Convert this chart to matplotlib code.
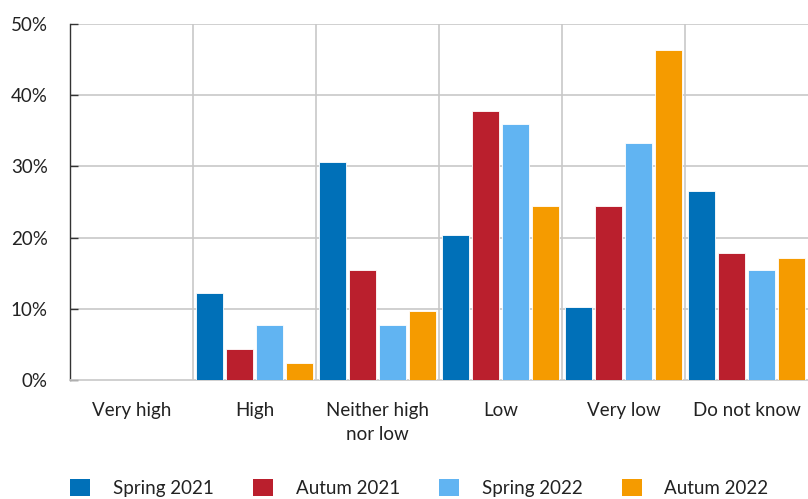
import matplotlib
matplotlib.use("Agg")
import matplotlib.pyplot as plt
import numpy as np
from matplotlib.patches import Patch

categories = ["Very high", "High", "Neither high\nnor low", "Low", "Very low", "Do not know"]
series_names = ["Spring 2021", "Autum 2021", "Spring 2022", "Autum 2022"]
spring_2021 = [0.0, 12.2, 30.6, 20.4, 10.2, 26.5]
autum_2021 = [0.0, 4.4, 15.5, 37.8, 24.4, 17.8]
spring_2022 = [0.0, 7.7, 7.7, 35.9, 33.3, 15.4]
autum_2022 = [0.0, 2.4, 9.7, 24.4, 46.3, 17.1]
colors = ["#0070B8", "#BA1F2D", "#61B4F2", "#F59B00"]
yticks = [0, 10, 20, 30, 40, 50]

plt.rcParams['font.family'] = ['Lato', 'DejaVu Sans']

fig = plt.figure(figsize=(8.08, 4.99), dpi=100)
ax = fig.add_axes([70/808, 1-380/499, 1-70/808, (380-24)/499])

x = np.arange(len(categories))
step = 0.244
w = 0.225
for i, (vals, c) in enumerate(zip([spring_2021, autum_2021, spring_2022, autum_2022], colors)):
    ax.bar(x + (i - 1.5) * step, vals, width=w, color=c, edgecolor='white', linewidth=0.6, zorder=3)

ax.set_xlim(-0.5, len(categories) - 0.5)
ax.set_ylim(0, 50)
ax.set_yticks(yticks)
ax.set_yticklabels([f"{t}%" for t in yticks])
ax.set_xticks(x)
ax.set_xticklabels(categories)

# grid
for yv in yticks[1:]:
    ax.axhline(yv, color='#C8C8C8', linewidth=1.2, zorder=1)
for b in np.arange(0.5, len(categories) - 0.5, 1.0):
    ax.axvline(b, color='#C8C8C8', linewidth=1.2, zorder=1)

for s in ['top', 'right']:
    ax.spines[s].set_visible(False)
ax.spines['bottom'].set_color('#C8C8C8')
ax.spines['bottom'].set_linewidth(1.2)
ax.spines['left'].set_color('#333333')
ax.spines['left'].set_linewidth(1.0)

ax.tick_params(axis='y', direction='in', length=6, width=1.0, color='#333333', pad=16, labelsize=13.5, labelcolor='#222222')
ax.tick_params(axis='x', length=0, pad=16, labelsize=13.5, labelcolor='#222222')
for lab in ax.get_xticklabels():
    lab.set_linespacing(1.45)

handles = [Patch(facecolor=c, edgecolor='none') for c in colors]
fig.legend(handles, series_names, loc='lower center', bbox_to_anchor=(0.519, -0.03), ncol=4,
           frameon=False, fontsize=13.5, handlelength=1.07, handleheight=1.0,
           handletextpad=1.2, columnspacing=2.1, labelcolor='#222222')

fig.savefig("out.png", dpi=100)
